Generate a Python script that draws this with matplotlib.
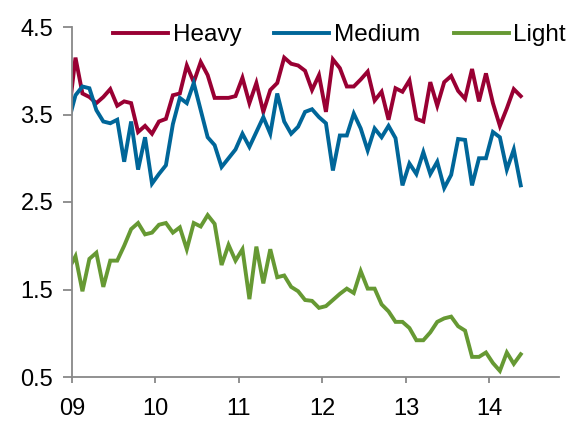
import numpy as np
import matplotlib
matplotlib.use("Agg")
import matplotlib.pyplot as plt

plt.rcParams["font.family"] = ["Liberation Sans", "DejaVu Sans"]

# monthly readings, Dec 2008 .. May 2014 (first point sits just left of the axis)
heavy = [3.48,
         4.15, 3.74, 3.70, 3.63, 3.70, 3.79, 3.60, 3.65, 3.63, 3.30, 3.37, 3.28,
         3.42, 3.45, 3.72, 3.74, 4.06, 3.87, 4.10, 3.95, 3.69, 3.69, 3.69, 3.71,
         3.92, 3.63, 3.86, 3.53, 3.78, 3.86, 4.15, 4.08, 4.06, 4.00, 3.78, 3.95,
         3.53, 4.13, 4.03, 3.82, 3.82, 3.90, 3.99, 3.66, 3.76, 3.44, 3.80, 3.76,
         3.89, 3.45, 3.42, 3.87, 3.60, 3.87, 3.94, 3.77, 3.68, 4.02, 3.65, 3.97,
         3.63, 3.37, 3.57, 3.79, 3.71]
medium = [3.42,
          3.72, 3.82, 3.80, 3.55, 3.42, 3.40, 3.44, 2.96, 3.42, 2.87, 3.24, 2.71,
          2.82, 2.92, 3.39, 3.69, 3.63, 3.86, 3.55, 3.24, 3.15, 2.90, 3.00, 3.10,
          3.28, 3.13, 3.30, 3.47, 3.28, 3.74, 3.42, 3.28, 3.36, 3.53, 3.56, 3.47,
          3.40, 2.86, 3.26, 3.26, 3.51, 3.34, 3.09, 3.34, 3.24, 3.37, 3.23, 2.69,
          2.94, 2.82, 3.07, 2.82, 2.96, 2.66, 2.81, 3.22, 3.21, 2.69, 3.00, 3.00,
          3.30, 3.24, 2.87, 3.10, 2.69]
light = [1.73,
         1.88, 1.48, 1.85, 1.92, 1.53, 1.83, 1.83, 2.00, 2.19, 2.26, 2.13, 2.15,
         2.24, 2.26, 2.15, 2.21, 1.96, 2.26, 2.22, 2.35, 2.25, 1.78, 2.01, 1.83,
         1.96, 1.39, 1.99, 1.57, 1.96, 1.64, 1.66, 1.53, 1.48, 1.38, 1.37, 1.29,
         1.31, 1.38, 1.45, 1.51, 1.46, 1.71, 1.51, 1.51, 1.33, 1.25, 1.13, 1.13,
         1.06, 0.92, 0.92, 1.01, 1.13, 1.17, 1.19, 1.08, 1.03, 0.73, 0.73, 0.78,
         0.66, 0.57, 0.78, 0.65, 0.76]
series_names = ["Heavy", "Medium", "Light"]
colors = ["#990033", "#006699", "#669933"]
year_labels = ["09", "10", "11", "12", "13", "14"]
y_ticks = [0.5, 1.5, 2.5, 3.5, 4.5]

# months since Jan 2009, plotted mid-month
months = np.arange(len(heavy)) - 0.5

fig = plt.figure(figsize=(5.66, 4.21), dpi=100)
ax = fig.add_axes([72 / 566, 1 - 377 / 421, (559 - 72) / 566, (377 - 27) / 421])

for vals, name, c in zip((heavy, medium, light), series_names, colors):
    ax.plot(months, vals, color=c, lw=2.8, label=name, solid_joinstyle="miter")

ax.set_xlim(0, 70)
ax.set_ylim(0.5, 4.5)
ax.set_yticks(y_ticks, [f"{v:.1f}" for v in y_ticks])
ax.set_xticks(np.arange(len(year_labels)) * 12, year_labels)

for side in ("top", "right"):
    ax.spines[side].set_visible(False)
for side in ("left", "bottom"):
    ax.spines[side].set_color("#888888")
    ax.spines[side].set_linewidth(1.3)
ax.tick_params(axis="y", direction="out", length=6.5, width=1.3, color="#888888",
               labelsize=17, pad=7)
ax.tick_params(axis="x", direction="out", length=4.5, width=1.3, color="#888888",
               labelsize=17, pad=10.5)

ax.legend(loc="center left", bbox_to_anchor=(113 / 566, 1 - 35 / 421),
          bbox_transform=fig.transFigure, ncol=3, frameon=False,
          fontsize=17.5, handlelength=2.26, handletextpad=0.2,
          columnspacing=1.36, borderpad=0, borderaxespad=0)

fig.savefig("out.png", dpi=100)
